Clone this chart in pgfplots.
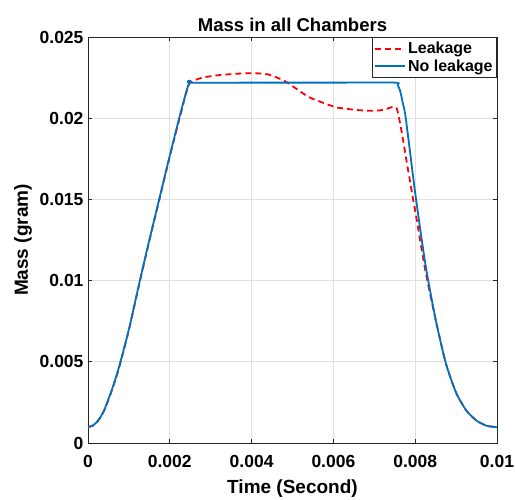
\documentclass[border=0pt]{standalone}
\usepackage{fontspec}
\setmainfont{Liberation Sans}
\usepackage{pgfplots}
\pgfplotsset{compat=1.18}
\definecolor{mblue}{rgb}{0,0.447,0.741}
\definecolor{axgray}{rgb}{0.15,0.15,0.15}
\begin{document}
\begin{tikzpicture}
\useasboundingbox (-88pt,-57pt) rectangle (427pt,443pt);
\begin{axis}[
  at={(0pt,0pt)}, anchor=south west,
  scale only axis, width=409pt, height=406pt,
  xmin=0, xmax=0.01, ymin=0, ymax=0.025,
  xtick={0,0.002,0.004,0.006,0.008,0.01},
  xticklabels={0,0.002,0.004,0.006,0.008,0.01},
  ytick={0,0.005,0.01,0.015,0.02,0.025},
  yticklabels={0,0.005,0.01,0.015,0.02,0.025},
  scaled ticks=false,
  tick align=inside, tick pos=both,
  major tick length=4pt,
  grid=major,
  grid style={draw=black!12, line width=0.7pt},
  axis line style={draw=axgray, line width=0.8pt},
  every tick/.style={draw=axgray, line width=0.8pt},
  ticklabel style={font=\bfseries\fontsize{17.5}{17.5}\selectfont, text=black},
  xticklabel style={yshift=-9pt},
  yticklabel style={xshift=-1pt},
  label style={font=\bfseries\fontsize{19}{19}\selectfont},
  xlabel={Time (Second)},
  ylabel={Mass (gram)},
  xlabel style={yshift=-5pt},
  ylabel style={yshift=1pt},
  title={Mass in all Chambers},
  title style={font=\bfseries\fontsize{18.5}{18.5}\selectfont, yshift=-4pt},
  legend style={at={(rel axis cs:1,1)}, anchor=north east,
    font=\bfseries\fontsize{16}{19}\selectfont, draw=axgray, line width=0.8pt,
    inner xsep=2pt, inner ysep=3pt, row sep=0pt, cells={anchor=west}},
  legend image code/.code={\draw[#1, line width=1.8pt] (0pt,0pt) -- (30pt,0pt);},
]
\addplot[red, dashed, line width=1.8pt, dash pattern=on 6pt off 4pt, smooth, tension=0.4] coordinates {
(0,0.001) (0.0001,0.00104) (0.0002,0.00123) (0.0003,0.00156) (0.0004,0.00202)
(0.0005,0.00266) (0.0006,0.00336) (0.00075,0.00455) (0.001,0.00695)
(0.00125,0.00975) (0.0015,0.01245) (0.00175,0.01505) (0.002,0.01765) (0.00225,0.0201)
(0.0024,0.02155) (0.0025,0.0222) (0.0028,0.0225) (0.0032,0.02265) (0.0036,0.02273)
(0.0040,0.02277) (0.0044,0.0227) (0.0048,0.0223) (0.0051,0.0218) (0.0054,0.0213)
(0.0058,0.0209) (0.0061,0.02065) (0.0066,0.0205) (0.0069,0.02046) (0.0072,0.0205)
(0.00746,0.0207) (0.00755,0.0206) (0.00763,0.0197) (0.0077,0.0187) (0.0078,0.0172)
(0.00795,0.0150) (0.008,0.0143) (0.00825,0.0106) (0.0085,0.0076) (0.00875,0.0049)
(0.009,0.0031) (0.00925,0.0020) (0.0095,0.00138) (0.00975,0.00106) (0.01,0.00097)
};
\addlegendentry{Leakage}
\addplot[mblue, line width=1.8pt, smooth, tension=0.4] coordinates {
(0,0.001) (0.0001,0.00105) (0.0002,0.00125) (0.0003,0.00158) (0.0004,0.00205)
(0.0005,0.0027) (0.0006,0.0034) (0.00075,0.0046) (0.001,0.0070)
(0.00125,0.0098) (0.0015,0.0125) (0.00175,0.0151) (0.002,0.0177) (0.00225,0.0202)
(0.0024,0.0216) (0.00249,0.0223) (0.00252,0.02219) (0.004,0.02219) (0.006,0.02219)
(0.0075,0.02219) (0.00757,0.02205) (0.00763,0.0217) (0.0077,0.0209) (0.00777,0.0200)
(0.008,0.0154) (0.00825,0.0110) (0.0085,0.0076) (0.00875,0.0049) (0.009,0.0031)
(0.00925,0.0020) (0.0095,0.00138) (0.00975,0.00106) (0.01,0.00097)
};
\addlegendentry{No leakage}
\end{axis}
\end{tikzpicture}
\end{document}
